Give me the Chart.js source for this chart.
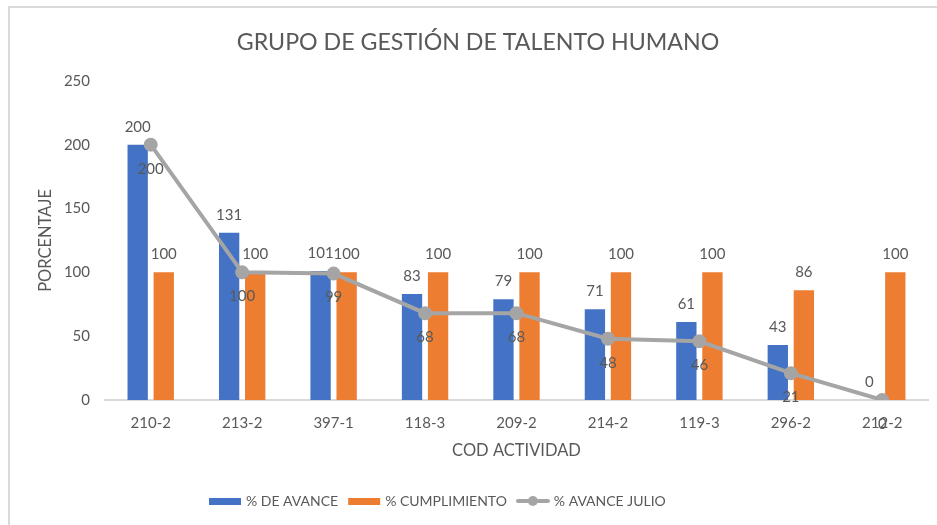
<!DOCTYPE html>
<html>
<head>
<meta charset="utf-8">
<script src="https://cdn.jsdelivr.net/npm/chart.js@4/dist/chart.umd.min.js"></script>
<style>
  html, body { margin: 0; padding: 0; background: #fff; }
  #wrap { position: relative; width: 937px; height: 525px; overflow: hidden; }
  #frame { position: absolute; left: 8px; top: 6px; width: 940px; height: 530px;
           border-top: 2px solid #d9d9d9; border-left: 2px solid #d9d9d9; box-sizing: border-box; }
  canvas { position: absolute; left: 0; top: 0; }
</style>
</head>
<body>
<div id="wrap">
  <div id="frame"></div>
  <canvas id="c" width="937" height="525"></canvas>
</div>
<script>
const categories = ['210-2', '213-2', '397-1', '118-3', '209-2', '214-2', '119-3', '296-2', '212-2'];
const avance = [200, 131, 101, 83, 79, 71, 61, 43, 0];
const cumplimiento = [100, 100, 100, 100, 100, 100, 100, 86, 100];
const avanceJulio = [200, 100, 99, 68, 68, 48, 46, 21, 0];
const yTicks = [0, 50, 100, 150, 200, 250];

const FONT = 'Lato, "Open Sans", sans-serif';
const TXT = '#595959';
const LEG = { family: FONT, size: 14, padding: 12, left: 199, top: 482, bottomPad: 25 };

function legendSwatch(kind, color) {
  const c = document.createElement('canvas');
  c.width = 34; c.height = 12;
  const g = c.getContext('2d');
  if (kind === 'bar') {
    g.fillStyle = color;
    g.fillRect(1, 3, 32, 7);
  } else {
    g.strokeStyle = color; g.lineWidth = 4; g.lineCap = 'round';
    g.beginPath(); g.moveTo(2, 6); g.lineTo(32, 6); g.stroke();
    g.fillStyle = color; g.beginPath(); g.arc(17, 6, 5, 0, Math.PI * 2); g.fill();
  }
  return c;
}

const labelPlugin = {
  id: 'valueLabels',
  afterDatasetsDraw(chart) {
    const ctx = chart.ctx;
    ctx.save();
    ctx.font = '15px ' + FONT;
    ctx.fillStyle = TXT;
    ctx.textAlign = 'center';
    ctx.textBaseline = 'middle';
    chart.data.datasets.forEach((ds, i) => {
      const meta = chart.getDatasetMeta(i);
      meta.data.forEach((el, j) => {
        const v = ds.data[j];
        if (ds.type === 'line') {
          ctx.fillText(String(v), el.x, el.y + 24);
        } else {
          ctx.fillText(String(v), el.x, el.y - 18);
        }
      });
    });
    ctx.restore();
  }
};

const placeBoxes = {
  id: 'placeBoxes',
  afterLayout(chart) {
    const lg = chart.legend;
    const w = lg.right - lg.left;
    const h = lg.bottom - lg.top;
    lg.left = LEG.left; lg.right = LEG.left + w;
    lg.top = LEG.top; lg.bottom = LEG.top + h;
    const tb = chart.titleBlock;
    tb.left += 20;
  }
};

new Chart(document.getElementById('c'), {
  data: {
    labels: categories,
    datasets: [
      { type: 'bar', label: '% DE AVANCE', data: avance, backgroundColor: '#4472C4', order: 2,
        categoryPercentage: 0.57, barPercentage: 0.78, swatch: legendSwatch('bar', '#4472C4') },
      { type: 'bar', label: '% CUMPLIMIENTO', data: cumplimiento, backgroundColor: '#ED7D31', order: 2,
        categoryPercentage: 0.57, barPercentage: 0.78, swatch: legendSwatch('bar', '#ED7D31') },
      { type: 'line', label: '% AVANCE JULIO', data: avanceJulio, borderColor: '#A5A5A5', backgroundColor: '#A5A5A5',
        borderWidth: 4, pointRadius: 5, pointHoverRadius: 5, order: 0, tension: 0,
        swatch: legendSwatch('line', '#A5A5A5') }
    ]
  },
  options: {
    responsive: false,
    animation: false,
    layout: { padding: { left: 7, right: 8, top: 0, bottom: LEG.bottomPad } },
    plugins: {
      title: {
        display: true, text: 'GRUPO DE GESTIÓN DE TALENTO HUMANO', color: TXT,
        font: { family: FONT, size: 23.2, weight: 'normal' }, padding: { top: 29, bottom: 24 }
      },
      legend: {
        position: 'bottom', align: 'start',
        labels: {
          color: TXT, font: { family: LEG.family, size: LEG.size }, usePointStyle: true, pointStyleWidth: 28,
          boxHeight: 12, padding: LEG.padding,
          generateLabels(chart) {
            return chart.data.datasets.map((ds, i) => ({
              text: ds.label, pointStyle: ds.swatch, fillStyle: ds.backgroundColor,
              strokeStyle: ds.backgroundColor, lineWidth: 0, hidden: false, datasetIndex: i, fontColor: TXT
            }));
          }
        }
      },
      tooltip: { enabled: false }
    },
    scales: {
      x: {
        grid: { display: false, drawTicks: false },
        border: { display: true, color: '#d9d9d9', width: 2 },
        ticks: { color: TXT, font: { family: FONT, size: 15 }, padding: 14 },
        title: { display: true, text: 'COD ACTIVIDAD', color: TXT, font: { family: FONT, size: 16.5 }, padding: { top: 8, bottom: 3 } },
        afterFit(s) { s.height = 64; }
      },
      y: {
        min: 0, max: 250,
        grid: { display: false, drawTicks: false },
        border: { display: false },
        afterBuildTicks(s) { s.ticks = yTicks.map(v => ({ value: v })); },
        ticks: { color: TXT, font: { family: FONT, size: 15 }, padding: 15 },
        title: { display: true, text: 'PORCENTAJE', color: TXT, font: { family: FONT, size: 16.5 }, padding: { top: 29, bottom: 0 } },
        afterFit(s) { s.width = 98; }
      }
    }
  },
  plugins: [labelPlugin, placeBoxes]
});
</script>
</body>
</html>
